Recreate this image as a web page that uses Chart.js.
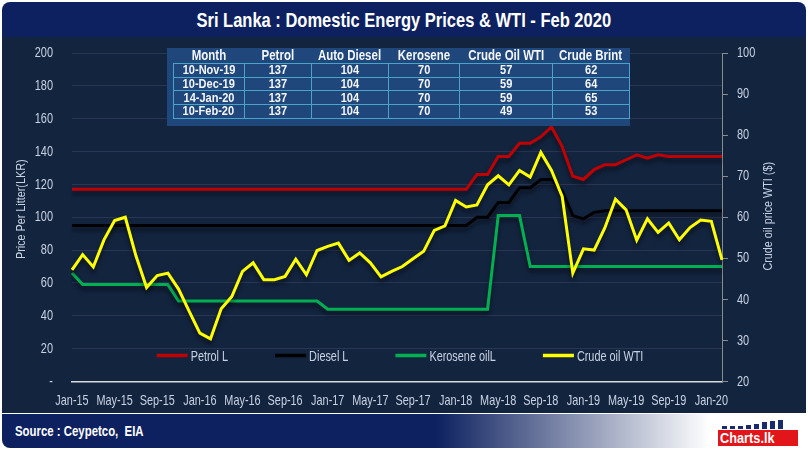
<!DOCTYPE html>
<html>
<head>
<meta charset="utf-8">
<script src="https://cdn.jsdelivr.net/npm/chart.js@4.4.1/dist/chart.umd.min.js"></script>
<style>
  body { margin: 0; width: 808px; height: 452px; background: #ffffff; overflow: hidden; position: relative;
         font-family: 'Liberation Sans', Arial, sans-serif; }
  .narrow { display: inline-block; white-space: pre; transform-origin: center center; }
  #titlebar { position: absolute; left: 2px; top: 2px; width: 804px; height: 35px; background: #0d2160;
              border-radius: 8px 8px 0 0; color: #fff; font-size: 21px; font-weight: bold;
              text-align: center; line-height: 36px; }
  #panel { position: absolute; left: 2px; top: 37px; width: 804px; height: 376px; background: #13243f; }
  #wrap { position: absolute; left: 0; top: 37px; width: 808px; height: 376px; }
  #footer { position: absolute; left: 2px; top: 414px; width: 804px; height: 34px; border-radius: 0 0 8px 8px;
            background: linear-gradient(to right, #0d2160 0%, #0d2160 54%, #ffffff 88%, #ffffff 100%); }
  #source { position: absolute; left: 13px; top: 0; line-height: 34px; color: #fff; font-weight: bold;
            font-size: 15px; }
  #source span { transform-origin: left center; transform: scaleX(0.76); }
  #logo { position: absolute; left: 716px; top: 3px; width: 82px; height: 29px; }
  #logo .bar { position: absolute; background: #1a2a6c; width: 5px; bottom: 17px; }
  #logo .red { position: absolute; left: 0; bottom: 0; width: 80px; height: 16px; background: #e2151b;
               color: #fff; font-weight: bold; font-size: 15px; line-height: 16px; padding-left: 2px; box-sizing: border-box; }
  #logo .red span { transform-origin: left center; transform: scaleX(0.85); }
  #tbl { position: absolute; left: 167px; top: 48px; width: 463px; height: 78px; background: #1f477b; }
  #tbl table { position: absolute; left: 5.5px; top: 0; border-collapse: collapse; table-layout: fixed;
               color: #f4f6fa; font-size: 13px; font-weight: bold; }
  #tbl th { height: 15px; padding: 0; font-size: 14px; text-align: center; white-space: nowrap; line-height: 15px; }
  #tbl td { height: 12.7px; padding: 0; border: 1px solid #4aa3c8; text-align: center; line-height: 12px; white-space: nowrap; }
  #tbl td span { transform: scaleX(0.85); }
  #tbl th span { transform: scaleX(0.82); }
</style>
</head>
<body>
<div id="titlebar"><span class="narrow" id="titletext">Sri Lanka : Domestic Energy Prices &amp; WTI - Feb 2020</span></div>
<div id="panel"></div>
<div id="wrap"><canvas id="chart" width="808" height="376"></canvas></div>
<div id="tbl"></div>
<div id="footer">
  <div id="source"><span class="narrow">Source : Ceypetco,  EIA</span></div>
  <div id="logo"></div>
</div>
<script>
const FONT = "'Liberation Sans', Arial, sans-serif";
const TICK = '#c9d2e2';

// months Jan-15 .. Feb-20
const months = [
  'Jan-15','Feb-15','Mar-15','Apr-15','May-15','Jun-15','Jul-15','Aug-15','Sep-15','Oct-15','Nov-15','Dec-15',
  'Jan-16','Feb-16','Mar-16','Apr-16','May-16','Jun-16','Jul-16','Aug-16','Sep-16','Oct-16','Nov-16','Dec-16',
  'Jan-17','Feb-17','Mar-17','Apr-17','May-17','Jun-17','Jul-17','Aug-17','Sep-17','Oct-17','Nov-17','Dec-17',
  'Jan-18','Feb-18','Mar-18','Apr-18','May-18','Jun-18','Jul-18','Aug-18','Sep-18','Oct-18','Nov-18','Dec-18',
  'Jan-19','Feb-19','Mar-19','Apr-19','May-19','Jun-19','Jul-19','Aug-19','Sep-19','Oct-19','Nov-19','Dec-19',
  'Jan-20','Feb-20'
];

// LKR per litre
const petrol = [
  117,117,117,117,117,117,117,117,117,117,
  117,117,117,117,117,117,117,117,117,117,
  117,117,117,117,117,117,117,117,117,117,
  117,117,117,117,117,117,117,117,126,126,
  137,137,145,145,149,155,143,125,123,129,
  132,132,135,138,136,138,137,137,137,137,
  137,137
];
const diesel = [
  95,95,95,95,95,95,95,95,95,95,
  95,95,95,95,95,95,95,95,95,95,
  95,95,95,95,95,95,95,95,95,95,
  95,95,95,95,95,95,95,95,100,100,
  109,109,118,118,123,123,116,101,99,103,
  104,104,104,104,104,104,104,104,104,104,
  104,104
];
const kerosene = [
  66,59,59,59,59,59,59,59,59,59,
  49,49,49,49,49,49,49,49,49,49,
  49,49,49,49,44,44,44,44,44,44,
  44,44,44,44,44,44,44,44,44,44,
  101,101,101,70,70,70,70,70,70,70,
  70,70,70,70,70,70,70,70,70,70,
  70,70
];
// US$ per barrel (right axis)
const wti = [
  47.2,50.9,47.9,54.5,59.2,60.0,50.6,42.9,45.8,46.4,
  42.5,37.1,31.8,30.4,37.7,40.7,46.8,48.9,44.8,44.8,
  45.6,49.8,46.0,51.9,52.9,53.7,49.5,51.3,48.9,45.5,
  46.8,48.0,49.9,51.7,56.8,57.9,64.1,62.5,63.0,67.9,
  70.1,67.9,71.4,69.8,75.8,71.4,65.1,46.4,52.3,52.0,
  57.4,64.4,61.8,54.4,59.6,56.3,58.6,54.5,57.5,59.3,
  59.0,49.6
];

// table on top of the chart
const tableHeaders = ['Month','Petrol','Auto Diesel','Kerosene','Crude Oil WTI','Crude Brint'];
const tableMonths = ['10-Nov-19','10-Dec-19','14-Jan-20','10-Feb-20'];
const tablePetrol = [137,137,137,137];
const tableDiesel = [104,104,104,104];
const tableKerosene = [70,70,70,70];
const tableWti = [57,59,59,49];
const tableBrent = [62,64,65,53];
const colWidths = [73,72,73,73,89,72];

// build the table
const cell = (tag, v) => `<${tag}><span class="narrow">${v}</span></${tag}>`;
let html = '<table><colgroup>' + colWidths.map(w => `<col style="width:${w}px">`).join('') + '</colgroup>';
html += '<tr>' + tableHeaders.map(h => cell('th', h)).join('') + '</tr>';
tableMonths.forEach((m, i) => {
  html += '<tr>' + [m, tablePetrol[i], tableDiesel[i], tableKerosene[i], tableWti[i], tableBrent[i]]
    .map(v => cell('td', v)).join('') + '</tr>';
});
html += '</table>';
document.getElementById('tbl').innerHTML = html;

// squeeze the title to the reference width
const tt = document.getElementById('titletext');
tt.style.transform = `scaleX(${415 / tt.offsetWidth})`;

// logo
const logo = document.getElementById('logo');
[3,3,3,4,5,7,8,9].forEach((h, i) => {
  const b = document.createElement('div');
  b.className = 'bar';
  b.style.left = (4 + i * 8) + 'px';
  b.style.height = h + 'px';
  logo.appendChild(b);
});
const red = document.createElement('div');
red.className = 'red';
red.innerHTML = '<span class="narrow">Charts.lk</span>';
logo.appendChild(red);

// dark shadow under the lines
const lineShadow = {
  id: 'lineShadow',
  beforeDatasetDraw(chart) {
    const c = chart.ctx;
    c.save();
    c.shadowColor = 'rgba(0,0,0,0.5)';
    c.shadowBlur = 4;
    c.shadowOffsetY = 4;
  },
  afterDatasetDraw(chart) { chart.ctx.restore(); }
};

function narrowText(ctx, text, x, y, align, sx, rot) {
  ctx.save();
  ctx.translate(x, y);
  if (rot) ctx.rotate(rot);
  ctx.scale(sx, 1);
  ctx.textAlign = align;
  ctx.textBaseline = 'middle';
  ctx.fillText(text, 0, 0);
  ctx.restore();
}

// condensed tick labels, axis titles and the legend inside the plot
const narrowLabels = {
  id: 'narrowLabels',
  afterDraw(chart) {
    const ctx = chart.ctx;
    const area = chart.chartArea;
    const {x, y, y1} = chart.scales;
    ctx.save();
    ctx.fillStyle = TICK;

    ctx.font = '14.5px ' + FONT;
    months.forEach((m, i) => {
      if (i % 4 === 0) narrowText(ctx, m, x.getPixelForValue(i), area.bottom + 19, 'center', 0.75);
    });

    ctx.font = '15px ' + FONT;
    y.ticks.forEach(t => {
      narrowText(ctx, t.value === 0 ? '-' : String(t.value), area.left - 19, y.getPixelForValue(t.value), 'right', 0.73);
    });
    y1.ticks.forEach(t => {
      narrowText(ctx, String(t.value), area.right + 15, y1.getPixelForValue(t.value), 'left', 0.73);
    });

    ctx.font = '13.5px ' + FONT;
    const midY = (area.top + area.bottom) / 2;
    narrowText(ctx, 'Price Per Litter(LKR)', 21, midY - 8, 'center', 0.8, -Math.PI / 2);
    narrowText(ctx, 'Crude oil price WTI ($)', 768, midY - 1, 'center', 0.8, -Math.PI / 2);

    // legend
    ctx.font = '14.5px ' + FONT;
    const sq = 0.75;
    const items = chart.data.datasets;
    const gap = 47, lineW = 31, textGap = 3;
    const widths = items.map(d => lineW + textGap + ctx.measureText(d.label).width * sq);
    const total = widths.reduce((a, b) => a + b, 0) + gap * (items.length - 1);
    let lx = 400 - total / 2;
    const ly = area.bottom - 26;
    items.forEach((d, k) => {
      ctx.strokeStyle = d.borderColor;
      ctx.lineWidth = 3.5;
      ctx.beginPath();
      ctx.moveTo(lx, ly);
      ctx.lineTo(lx + lineW, ly);
      ctx.stroke();
      narrowText(ctx, d.label, lx + lineW + textGap, ly + 1, 'left', sq);
      lx += widths[k] + gap;
    });
    ctx.restore();
  }
};

const ctx = document.getElementById('chart').getContext('2d');
new Chart(ctx, {
  type: 'line',
  data: {
    labels: months,
    datasets: [
      { label: 'Petrol L', data: petrol, borderColor: '#c00000', yAxisID: 'y', order: 4 },
      { label: 'Diesel L', data: diesel, borderColor: '#000000', yAxisID: 'y', order: 3 },
      { label: 'Kerosene oilL', data: kerosene, borderColor: '#00b050', yAxisID: 'y', order: 2 },
      { label: 'Crude oil WTI', data: wti, borderColor: '#ffff00', yAxisID: 'y1', order: 1 }
    ]
  },
  options: {
    responsive: false,
    animation: false,
    layout: { padding: { top: 16, left: 0, right: 0, bottom: 0 } },
    elements: {
      line: { borderWidth: 3, tension: 0, fill: false },
      point: { radius: 0 }
    },
    plugins: {
      legend: { display: false },
      tooltip: { enabled: false }
    },
    scales: {
      x: {
        grid: { display: false, drawTicks: false },
        border: { display: true, color: '#d9d9d9', width: 1.5 },
        ticks: { display: false, autoSkip: false },
        afterFit: s => { s.height = 31.5; }
      },
      y: {
        position: 'left', min: 0, max: 200,
        ticks: { stepSize: 20, display: false },
        grid: { color: '#2a3454', drawTicks: false },
        border: { display: false },
        afterFit: s => { s.width = 72; }
      },
      y1: {
        position: 'right', min: 20, max: 100,
        ticks: { stepSize: 10, display: false },
        grid: { drawOnChartArea: false, color: '#8c8c8c', tickLength: 6 },
        border: { display: true, color: '#8c8c8c', width: 1 },
        afterFit: s => { s.width = 86; }
      }
    }
  },
  plugins: [lineShadow, narrowLabels]
});
</script>
</body>
</html>
